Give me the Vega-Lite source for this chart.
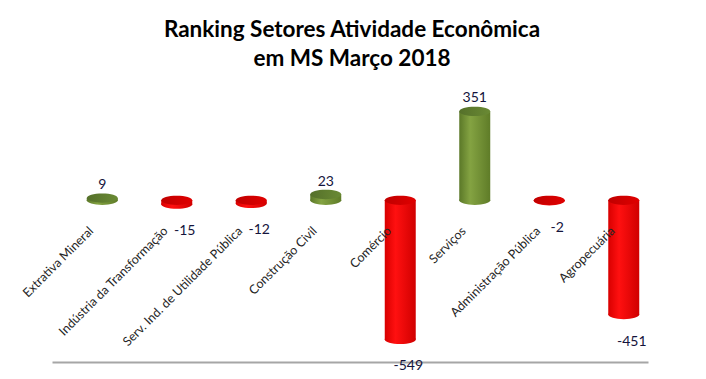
{
  "$schema": "https://vega.github.io/schema/vega-lite/v6.json",
  "autosize": {"type": "none"},
  "width": 596,
  "height": 263,
  "padding": {"left": 65, "top": 99, "right": 45, "bottom": 17},
  "background": "white",
  "title": {
    "text": ["Ranking Setores Atividade Econômica", "em MS Março 2018"],
    "font": "Lato",
    "fontSize": 22.5,
    "fontWeight": "bold",
    "color": "#000000",
    "anchor": "middle",
    "frame": "group",
    "dx": -11,
    "offset": 21,
    "lineHeight": 29
  },
  "config": {"view": {"stroke": null}},
  "data": {
    "values": [
      {"setor": "Extrativa Mineral", "valor": 9},
      {"setor": "Indústria da Transformação", "valor": -15},
      {"setor": "Serv. Ind. de Utilidade Pública", "valor": -12},
      {"setor": "Construção Civil", "valor": 23},
      {"setor": "Comércio", "valor": -549},
      {"setor": "Serviços", "valor": 351},
      {"setor": "Administração Pública", "valor": -2},
      {"setor": "Agropecuária", "valor": -451}
    ]
  },
  "encoding": {
    "x": {
      "field": "setor",
      "type": "nominal",
      "sort": ["Extrativa Mineral", "Indústria da Transformação", "Serv. Ind. de Utilidade Pública", "Construção Civil", "Comércio", "Serviços", "Administração Pública", "Agropecuária"],
      "scale": {"paddingInner": 0.584, "paddingOuter": 0.292},
      "axis": {"labels": false, "ticks": false, "title": null, "domainColor": "#a6a6a6", "domainWidth": 2, "position": -13}
    }
  },
  "layer": [
    {
      "transform": [{"filter": "datum.valor >= 0"}],
      "mark": {"type": "point", "filled": true, "strokeWidth": 0, "opacity": 1, "size": 961,
        "shape": "M-1,0A1,0.3,0,1,0,1,0A1,0.3,0,1,0,-1,0Z",
        "fill": {"gradient": "linear", "x1": 0, "x2": 1, "y1": 0, "y2": 0, "stops": [{"offset": 0, "color": "#5b7828"}, {"offset": 0.35, "color": "#84a342"}, {"offset": 1, "color": "#5f7c28"}]}},
      "encoding": {"y": {"datum": 0, "type": "quantitative", "scale": {"domain": [-638, 400]}, "axis": null}}
    },
    {
      "transform": [{"filter": "datum.valor < 0"}],
      "mark": {"type": "point", "filled": true, "strokeWidth": 0, "opacity": 1, "size": 961,
        "shape": "M-1,0A1,0.3,0,1,0,1,0A1,0.3,0,1,0,-1,0Z",
        "fill": {"gradient": "linear", "x1": 0, "x2": 1, "y1": 0, "y2": 0, "stops": [{"offset": 0, "color": "#d80000"}, {"offset": 0.35, "color": "#ff1010"}, {"offset": 1, "color": "#d00000"}]}},
      "encoding": {"y": {"field": "valor", "type": "quantitative", "scale": {"domain": [-638, 400]}, "axis": null}}
    },
    {
      "transform": [{"filter": "datum.valor >= 0"}],
      "mark": {"type": "bar",
        "fill": {"gradient": "linear", "x1": 0, "x2": 1, "y1": 0, "y2": 0, "stops": [{"offset": 0, "color": "#5b7828"}, {"offset": 0.35, "color": "#84a342"}, {"offset": 1, "color": "#5f7c28"}]}},
      "encoding": {"y": {"field": "valor", "type": "quantitative", "scale": {"domain": [-638, 400]}, "axis": null}}
    },
    {
      "transform": [{"filter": "datum.valor < 0"}],
      "mark": {"type": "bar",
        "fill": {"gradient": "linear", "x1": 0, "x2": 1, "y1": 0, "y2": 0, "stops": [{"offset": 0, "color": "#d80000"}, {"offset": 0.35, "color": "#ff1010"}, {"offset": 1, "color": "#d00000"}]}},
      "encoding": {"y": {"field": "valor", "type": "quantitative", "scale": {"domain": [-638, 400]}, "axis": null}}
    },
    {
      "transform": [{"filter": "datum.valor >= 0"}],
      "mark": {"type": "point", "filled": true, "strokeWidth": 0, "opacity": 1, "size": 961,
        "shape": "M-1,0A1,0.3,0,1,0,1,0A1,0.3,0,1,0,-1,0Z",
        "fill": {"gradient": "linear", "x1": 0, "x2": 1, "y1": 0, "y2": 0, "stops": [{"offset": 0, "color": "#55702a"}, {"offset": 1, "color": "#6a8a34"}]}},
      "encoding": {"y": {"field": "valor", "type": "quantitative", "scale": {"domain": [-638, 400]}, "axis": null}}
    },
    {
      "transform": [{"filter": "datum.valor < 0"}],
      "mark": {"type": "point", "filled": true, "strokeWidth": 0, "opacity": 1, "size": 961,
        "shape": "M-1,0A1,0.3,0,1,0,1,0A1,0.3,0,1,0,-1,0Z",
        "fill": {"gradient": "linear", "x1": 0, "x2": 1, "y1": 0, "y2": 0, "stops": [{"offset": 0, "color": "#c00000"}, {"offset": 1, "color": "#e00000"}]}},
      "encoding": {"y": {"datum": 0, "type": "quantitative", "scale": {"domain": [-638, 400]}, "axis": null}}
    },
    {
      "transform": [{"filter": "datum.valor >= 0"}],
      "mark": {"type": "text", "font": "Lato", "fontSize": 14, "color": "#14143c", "baseline": "middle", "dy": -13},
      "encoding": {
        "y": {"field": "valor", "type": "quantitative", "scale": {"domain": [-638, 400]}, "axis": null},
        "text": {"field": "valor", "type": "nominal"}
      }
    },
    {
      "transform": [{"filter": "datum.valor < 0"}],
      "mark": {"type": "text", "font": "Lato", "fontSize": 14, "color": "#14143c", "baseline": "middle", "dy": 27, "dx": 8},
      "encoding": {
        "y": {"field": "valor", "type": "quantitative", "scale": {"domain": [-638, 400]}, "axis": null},
        "text": {"field": "valor", "type": "nominal"}
      }
    },
    {
      "mark": {"type": "text", "font": "Lato", "fontSize": 12.5, "color": "#262626", "angle": -45, "align": "right", "baseline": "middle", "dx": -28, "dy": 12.5},
      "encoding": {
        "y": {"datum": 0, "type": "quantitative", "scale": {"domain": [-638, 400]}, "axis": null},
        "text": {"field": "setor", "type": "nominal"}
      }
    }
  ]
}
